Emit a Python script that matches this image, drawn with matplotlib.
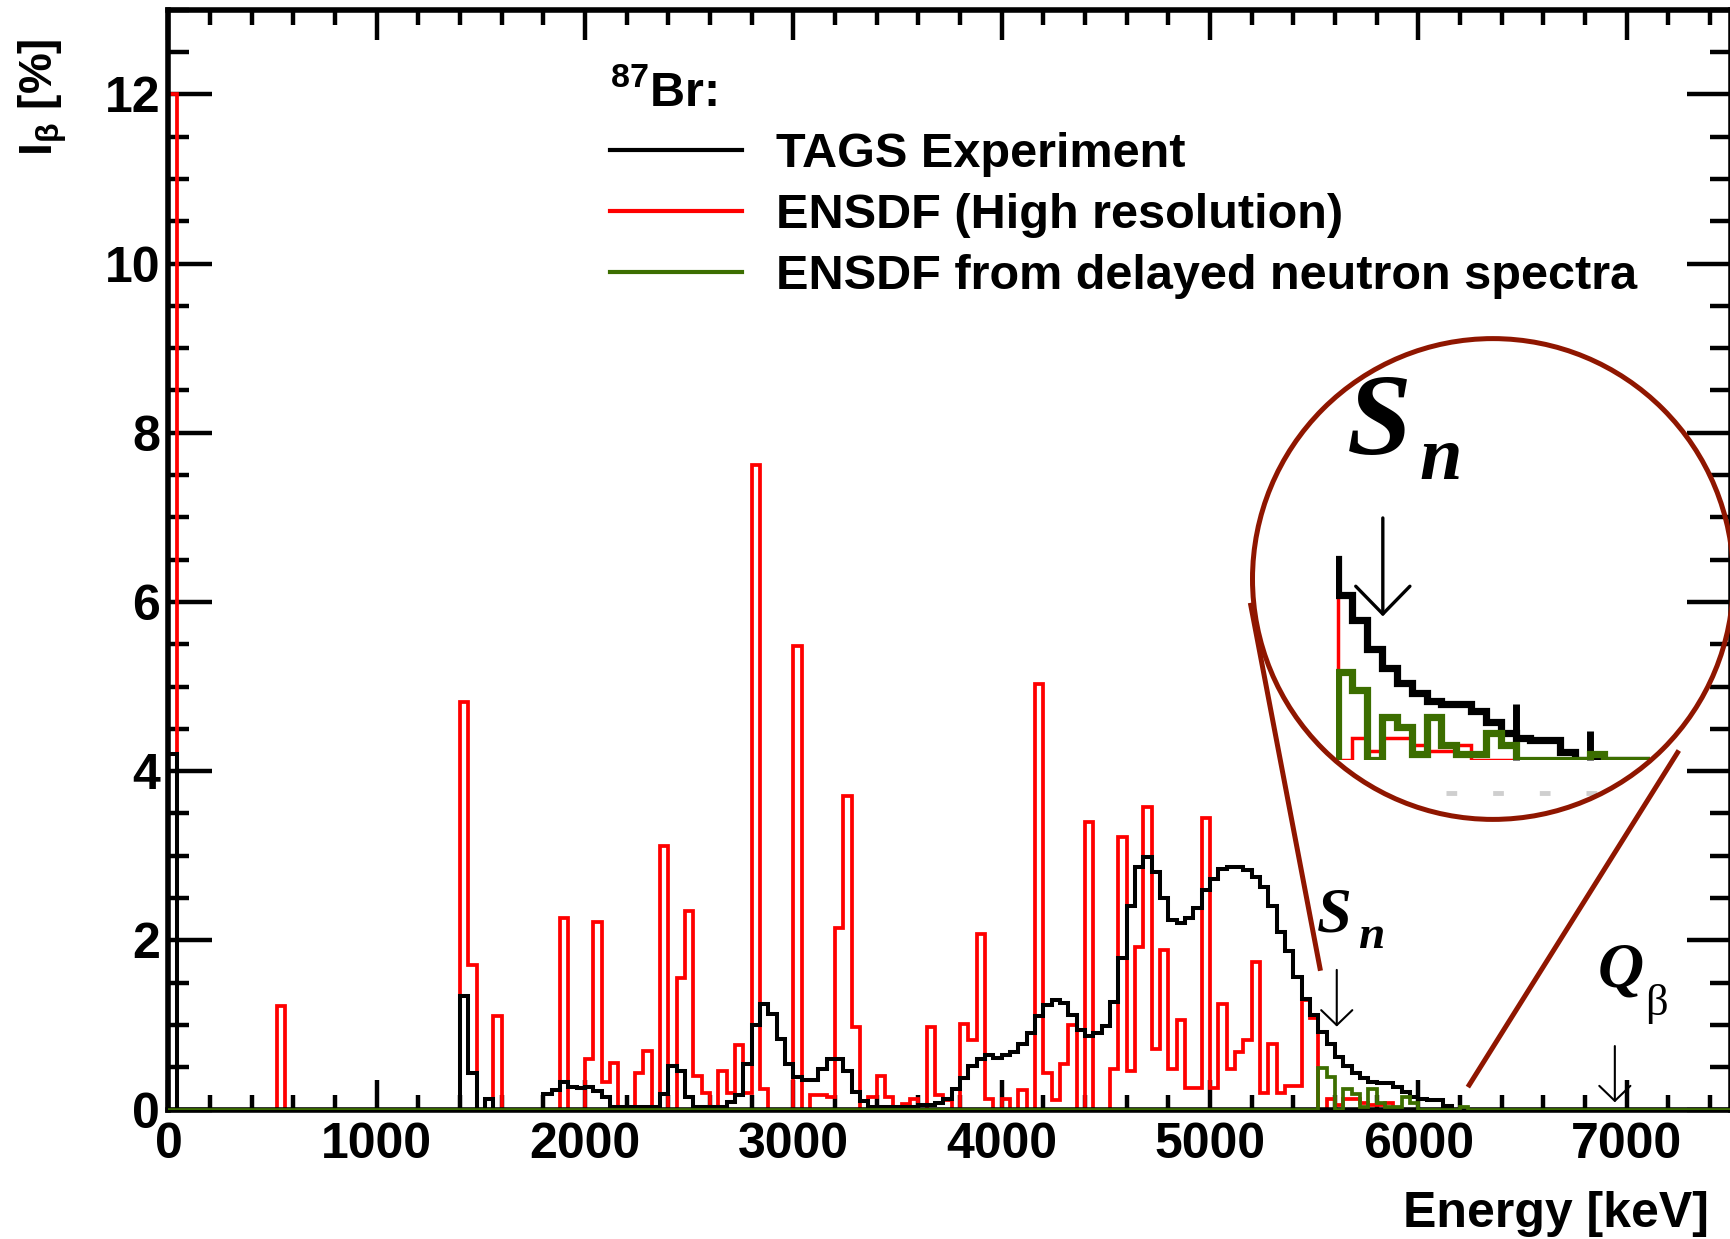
import numpy as np
import matplotlib
matplotlib.use("Agg")
import matplotlib.pyplot as plt
from matplotlib.lines import Line2D
from matplotlib.patches import Ellipse
from matplotlib.ticker import MultipleLocator

plt.rcParams["font.family"] = ["Liberation Sans", "DejaVu Sans"]
plt.rcParams["font.weight"] = "bold"
plt.rcParams["mathtext.fontset"] = "custom"
plt.rcParams["mathtext.rm"] = "Liberation Sans"
plt.rcParams["mathtext.bf"] = "Liberation Sans:bold"
plt.rcParams["mathtext.it"] = "Liberation Sans:italic"

# ---- data: beta intensity [%] in 40 keV bins ----
BIN = 40
E_MAX = 7500

# TAGS experiment (ground state bin + contiguous bins from 1400 keV)
tags_gs = 4.2
tags_start = 1400
tags_values = [
    1.34, 0.43, 0.00, 0.12, 0.00, 0.00, 0.00, 0.00, 0.00, 0.00,   # 1400-1760
    0.18, 0.23, 0.33, 0.27, 0.25, 0.27, 0.22, 0.15, 0.03, 0.03,   # 1800-2160
    0.03, 0.03, 0.03, 0.03, 0.18, 0.52, 0.46, 0.15, 0.03, 0.03,   # 2200-2560
    0.03, 0.03, 0.09, 0.17, 0.54, 1.00, 1.25, 1.13, 0.83, 0.54,   # 2600-2960
    0.39, 0.35, 0.35, 0.48, 0.60, 0.60, 0.46, 0.21, 0.10, 0.03,   # 3000-3360
    0.03, 0.03, 0.03, 0.03, 0.03, 0.05, 0.05, 0.08, 0.12, 0.24,   # 3400-3760
    0.37, 0.51, 0.60, 0.64, 0.61, 0.64, 0.68, 0.78, 0.90, 1.10,   # 3800-4160
    1.24, 1.30, 1.26, 1.12, 0.94, 0.87, 0.90, 0.99, 1.27, 1.79,   # 4200-4560
    2.40, 2.87, 2.99, 2.81, 2.50, 2.24, 2.20, 2.26, 2.38, 2.60,   # 4600-4960
    2.73, 2.84, 2.87, 2.87, 2.83, 2.75, 2.63, 2.40, 2.10, 1.87,   # 5000-5360
    1.57, 1.31, 1.12, 0.92, 0.78, 0.62, 0.51, 0.43, 0.37, 0.33,   # 5400-5760
    0.31, 0.31, 0.27, 0.21, 0.15, 0.12, 0.11, 0.11, 0.04, 0.00,   # 5800-6160
]

# ENSDF (high resolution): bin lower edge [keV] and intensity
ensdf_e = [0, 520, 1400, 1440, 1560, 1880, 2000, 2040, 2080, 2120,
           2240, 2280, 2360, 2440, 2480, 2520, 2560, 2640, 2680, 2720,
           2760, 2800, 2840, 3000, 3080, 3120, 3160, 3200, 3240, 3280,
           3360, 3400, 3440, 3520, 3560, 3640, 3680, 3720, 3800, 3840,
           3880, 3920, 4000, 4080, 4160, 4200, 4240, 4280, 4320, 4400,
           4520, 4560, 4600, 4640, 4680, 4720, 4760, 4800, 4840, 4880,
           4920, 4960, 5000, 5040, 5080, 5120, 5160, 5200, 5240, 5280,
           5320, 5360, 5400, 5440, 5480, 5560, 5600, 5640, 5680, 5720,
           5760, 5800, 5840]
ensdf_i = [12.0, 1.22, 4.82, 1.71, 1.10, 2.26, 0.60, 2.22, 0.33, 0.55,
           0.43, 0.69, 3.12, 1.55, 2.35, 0.40, 0.19, 0.46, 0.19, 0.76,
           0.20, 7.62, 0.24, 5.48, 0.17, 0.17, 0.15, 2.14, 3.71, 0.98,
           0.15, 0.40, 0.15, 0.06, 0.12, 0.98, 0.17, 0.11, 1.01, 0.82,
           2.08, 0.12, 0.13, 0.23, 5.03, 0.43, 0.11, 0.54, 1.00, 3.40,
           0.48, 3.22, 0.45, 1.92, 3.58, 0.72, 1.88, 0.48, 1.06, 0.26,
           0.25, 3.44, 0.25, 1.25, 0.48, 0.68, 0.82, 1.74, 0.19, 0.78,
           0.19, 0.28, 0.28, 1.29, 1.08, 0.12, 0.05, 0.12, 0.12, 0.08,
           0.05, 0.05, 0.08]

# ENSDF from delayed neutron spectra (above Sn)
dn_start = 5520
dn_values = [0.49, 0.39, 0.00, 0.24, 0.18, 0.03, 0.24, 0.08, 0.03, 0.03,
             0.15, 0.08, 0.00, 0.00, 0.00, 0.00, 0.00, 0.03]

legend_labels = ["TAGS Experiment", "ENSDF (High resolution)",
                 "ENSDF from delayed neutron spectra"]

# arrow positions used in the figure [keV]
sn_arrow = 5609
qb_arrow = 6944

# ---- histograms ----
edges = np.arange(0, 7520 + BIN, BIN)
nb = len(edges) - 1

tags = np.zeros(nb)
tags[0] = tags_gs
i0 = tags_start // BIN
tags[i0:i0 + len(tags_values)] = tags_values

ensdf = np.zeros(nb)
for e, v in zip(ensdf_e, ensdf_i):
    ensdf[e // BIN] = v

dn = np.zeros(nb)
j0 = dn_start // BIN
dn[j0:j0 + len(dn_values)] = dn_values

RED = "#ff0000"
GREEN = "#3c6e00"
MAROON = "#8f1600"

W, H = 1731, 1239
fig = plt.figure(figsize=(W / 100, H / 100), dpi=100)

ax = fig.add_axes([168.4 / W, 1 - 1109.5 / H, 0.2083 * E_MAX / W, 13 * 84.6 / H])
ax.stairs(ensdf, edges, color=RED, lw=2.7, zorder=2)
ax.stairs(tags, edges, color="black", lw=2.9, zorder=3)
ax.stairs(dn, edges, color=GREEN, lw=2.7, zorder=4)
ax.set_xlim(0, E_MAX)
ax.set_ylim(0, 13)

for s in ax.spines.values():
    s.set_linewidth(4)
ax.xaxis.set_major_locator(MultipleLocator(1000))
ax.xaxis.set_minor_locator(MultipleLocator(200))
ax.yaxis.set_major_locator(MultipleLocator(2))
ax.yaxis.set_minor_locator(MultipleLocator(0.5))
ax.tick_params(which="both", direction="in", top=True, right=True, width=3.2,
               labelsize=36)
ax.tick_params(axis="x", which="major", length=21.6, pad=9)
ax.tick_params(axis="x", which="minor", length=10.8)
ax.tick_params(axis="y", which="major", length=31.7, pad=6)
ax.tick_params(axis="y", which="minor", length=15)

# legend
handles = [Line2D([], [], color="black", lw=3),
           Line2D([], [], color=RED, lw=3),
           Line2D([], [], color=GREEN, lw=3)]
ax.legend(handles, legend_labels, title=r"$^{\mathbf{87}}$Br:",
          title_fontproperties={"weight": "bold", "size": 35},
          loc="upper left", bbox_to_anchor=((610 - 168.4) / 1562.3, (1109.5 - 70) / 1099.8),
          frameon=False, fontsize=35, handlelength=2.72, handletextpad=0.7,
          labelspacing=0.33, alignment="left", borderpad=0, borderaxespad=0)

# Sn / Q_beta labels and arrows
serif = dict(family="Liberation Serif", style="italic", weight="bold")
ax.text(5513, 2.10, "S", size=45, ha="left", va="baseline", **serif)
ax.text(5711, 1.905, "n", size=34, ha="left", va="baseline", **serif)
ax.text(6862, 1.45, "Q", size=46, ha="left", va="baseline", **serif)
ax.text(7090, 1.12, "\u03b2", size=32, ha="left", va="baseline",
        family="Liberation Serif", weight="normal")
arrow = dict(arrowstyle="->,head_length=1.08,head_width=1.12", lw=1.5,
             color="black", mutation_scale=10, shrinkA=0, shrinkB=0)
ax.annotate("", xy=(sn_arrow, 0.98), xytext=(sn_arrow, 1.65), arrowprops=arrow)
ax.annotate("", xy=(qb_arrow, 0.085), xytext=(qb_arrow, 0.75), arrowprops=arrow)

# axis titles
fig.text(1709 / W, 1 - 1227 / H, "Energy [keV]", ha="right", va="baseline",
         fontsize=36, fontweight="bold")
fig.text(43 / W, 1 - 39 / H, r"I$_{\mathrm{\beta}}$ [%]", rotation=90,
         ha="center", va="top", fontsize=33, fontweight="bold")

# magnified view of the region above Sn
ax_in = fig.add_axes([1336.5 / W, 1 - 759.6 / H, 313.9 / W, 1.3 * 179 / H])
ax_in.patch.set_alpha(0)
ax_in.stairs(ensdf, edges, color=RED, lw=2.5, zorder=2)
ax_in.stairs(tags, edges, color="black", lw=5.2, zorder=3)
ax_in.stairs(dn, edges, color=GREEN, lw=5.2, zorder=4)
ax_in.set_xlim(5517, 6364)
ax_in.set_ylim(0, 1.3)
for s in ax_in.spines.values():
    s.set_visible(False)
ax_in.set_yticks([])
ax_in.set_xticks([6000])
ax_in.set_xticks([6200], minor=True)
ax_in.tick_params(axis="x", which="both", direction="in", width=5, labelbottom=False)
ax_in.tick_params(axis="x", which="major", length=40)
ax_in.tick_params(axis="x", which="minor", length=21)
ax_in.text(5544, 1.705, "S", size=84, ha="left", va="baseline", **serif)
ax_in.text(5740, 1.568, "n", size=55, ha="left", va="baseline", **serif)
ax_in.annotate("", xy=(5642, 0.80), xytext=(5642, 1.35),
               arrowprops=dict(arrowstyle="->,head_length=2.0,head_width=1.95",
                               lw=2.4, color="black", mutation_scale=10,
                               shrinkA=0, shrinkB=0))
ax_in.plot([5813, 6232], [-0.187, -0.187], color="#cfcfcf", lw=3.5,
           ls=(0, (2.2, 7.4)), clip_on=False)

# circle and connecting lines
fig.add_artist(Ellipse((1492.9 / W, 1 - 579 / H), 2 * 240.4 / W, 2 * 240.4 / H,
                       transform=fig.transFigure, fill=False, ec=MAROON, lw=3.6))
fig.add_artist(Line2D([1250.8 / W, 1320 / W], [1 - 605.3 / H, 1 - 968.3 / H],
                      transform=fig.transFigure, color=MAROON, lw=3.6))
fig.add_artist(Line2D([1677.5 / W, 1469.2 / W], [1 - 752.6 / H, 1 - 1085 / H],
                      transform=fig.transFigure, color=MAROON, lw=3.6))

fig.savefig("out.png", dpi=100)
